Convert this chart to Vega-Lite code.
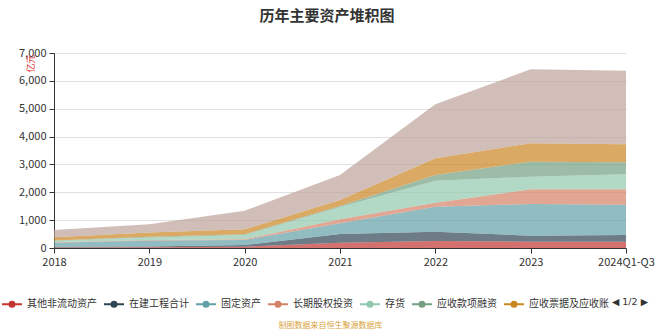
{
  "$schema": "https://vega.github.io/schema/vega-lite/v6.json",
  "width": 572,
  "height": 195,
  "autosize": {"type": "none"},
  "padding": {"left": 54, "top": 53, "right": 32, "bottom": 87},
  "background": "white",
  "title": {
    "text": "历年主要资产堆积图",
    "fontSize": 15,
    "fontWeight": "bold",
    "color": "#333333",
    "font": "Noto Sans CJK SC",
    "anchor": "middle",
    "dx": -13,
    "offset": 23
  },
  "config": {
    "font": "Noto Sans CJK SC",
    "view": {"stroke": null},
    "axis": {"labelFont": "Noto Sans CJK SC", "labelColor": "#333333", "labelFontSize": 11}
  },
  "data": {
    "values": [
      {"year": "2018", "series": "其他非流动资产", "idx": 1, "value": 20},
      {"year": "2019", "series": "其他非流动资产", "idx": 1, "value": 25},
      {"year": "2020", "series": "其他非流动资产", "idx": 1, "value": 45},
      {"year": "2021", "series": "其他非流动资产", "idx": 1, "value": 190},
      {"year": "2022", "series": "其他非流动资产", "idx": 1, "value": 250},
      {"year": "2023", "series": "其他非流动资产", "idx": 1, "value": 225},
      {"year": "2024Q1-Q3", "series": "其他非流动资产", "idx": 1, "value": 225},
      {"year": "2018", "series": "在建工程合计", "idx": 2, "value": 25},
      {"year": "2019", "series": "在建工程合计", "idx": 2, "value": 25},
      {"year": "2020", "series": "在建工程合计", "idx": 2, "value": 60},
      {"year": "2021", "series": "在建工程合计", "idx": 2, "value": 310},
      {"year": "2022", "series": "在建工程合计", "idx": 2, "value": 335},
      {"year": "2023", "series": "在建工程合计", "idx": 2, "value": 215},
      {"year": "2024Q1-Q3", "series": "在建工程合计", "idx": 2, "value": 240},
      {"year": "2018", "series": "固定资产", "idx": 3, "value": 145},
      {"year": "2019", "series": "固定资产", "idx": 3, "value": 215},
      {"year": "2020", "series": "固定资产", "idx": 3, "value": 185},
      {"year": "2021", "series": "固定资产", "idx": 3, "value": 385},
      {"year": "2022", "series": "固定资产", "idx": 3, "value": 895},
      {"year": "2023", "series": "固定资产", "idx": 3, "value": 1140},
      {"year": "2024Q1-Q3", "series": "固定资产", "idx": 3, "value": 1090},
      {"year": "2018", "series": "长期股权投资", "idx": 4, "value": 15},
      {"year": "2019", "series": "长期股权投资", "idx": 4, "value": 20},
      {"year": "2020", "series": "长期股权投资", "idx": 4, "value": 25},
      {"year": "2021", "series": "长期股权投资", "idx": 4, "value": 145},
      {"year": "2022", "series": "长期股权投资", "idx": 4, "value": 145},
      {"year": "2023", "series": "长期股权投资", "idx": 4, "value": 525},
      {"year": "2024Q1-Q3", "series": "长期股权投资", "idx": 4, "value": 550},
      {"year": "2018", "series": "存货", "idx": 5, "value": 55},
      {"year": "2019", "series": "存货", "idx": 5, "value": 95},
      {"year": "2020", "series": "存货", "idx": 5, "value": 155},
      {"year": "2021", "series": "存货", "idx": 5, "value": 440},
      {"year": "2022", "series": "存货", "idx": 5, "value": 790},
      {"year": "2023", "series": "存货", "idx": 5, "value": 455},
      {"year": "2024Q1-Q3", "series": "存货", "idx": 5, "value": 540},
      {"year": "2018", "series": "应收款项融资", "idx": 6, "value": 10},
      {"year": "2019", "series": "应收款项融资", "idx": 6, "value": 20},
      {"year": "2020", "series": "应收款项融资", "idx": 6, "value": 20},
      {"year": "2021", "series": "应收款项融资", "idx": 6, "value": 40},
      {"year": "2022", "series": "应收款项融资", "idx": 6, "value": 205},
      {"year": "2023", "series": "应收款项融资", "idx": 6, "value": 540},
      {"year": "2024Q1-Q3", "series": "应收款项融资", "idx": 6, "value": 430},
      {"year": "2018", "series": "应收票据及应收账款", "idx": 7, "value": 120},
      {"year": "2019", "series": "应收票据及应收账款", "idx": 7, "value": 160},
      {"year": "2020", "series": "应收票据及应收账款", "idx": 7, "value": 180},
      {"year": "2021", "series": "应收票据及应收账款", "idx": 7, "value": 210},
      {"year": "2022", "series": "应收票据及应收账款", "idx": 7, "value": 600},
      {"year": "2023", "series": "应收票据及应收账款", "idx": 7, "value": 660},
      {"year": "2024Q1-Q3", "series": "应收票据及应收账款", "idx": 7, "value": 645},
      {"year": "2018", "series": "货币资金", "idx": 8, "value": 260},
      {"year": "2019", "series": "货币资金", "idx": 8, "value": 290},
      {"year": "2020", "series": "货币资金", "idx": 8, "value": 670},
      {"year": "2021", "series": "货币资金", "idx": 8, "value": 900},
      {"year": "2022", "series": "货币资金", "idx": 8, "value": 1940},
      {"year": "2023", "series": "货币资金", "idx": 8, "value": 2655},
      {"year": "2024Q1-Q3", "series": "货币资金", "idx": 8, "value": 2645}
    ]
  },
  "mark": {"type": "area", "opacity": 0.7, "interpolate": "linear"},
  "encoding": {
    "x": {
      "field": "year",
      "type": "ordinal",
      "sort": null,
      "scale": {"type": "point", "padding": 0},
      "axis": {
        "labelAngle": 0,
        "labelOverlap": false,
        "domainColor": "#333333",
        "tickColor": "#333333",
        "tickSize": 5,
        "labelPadding": 3,
        "grid": false,
        "title": "制图数据来自恒生聚源数据库",
        "titleFontSize": 8,
        "titleFontWeight": "normal",
        "titleColor": "#d9a441",
        "titleX": 276,
        "titleY": 77,
        "titleAlign": "center",
        "titleBaseline": "middle"
      }
    },
    "y": {
      "field": "value",
      "type": "quantitative",
      "stack": "zero",
      "scale": {"domain": [0, 7000], "nice": false},
      "axis": {
        "values": [0, 1000, 2000, 3000, 4000, 5000, 6000, 7000],
        "format": ",d",
        "domainColor": "#333333",
        "tickColor": "#333333",
        "tickSize": 5,
        "labelPadding": 3,
        "gridColor": "#e0e0e0",
        "title": "亿元",
        "titleFontSize": 9,
        "titleFontWeight": "normal",
        "titleColor": "#e03030",
        "titleX": -24,
        "titleY": 10,
        "titleAngle": -90,
        "titleAlign": "center",
        "titleBaseline": "middle"
      }
    },
    "order": {"field": "idx", "type": "quantitative"},
    "color": {
      "field": "series",
      "type": "nominal",
      "scale": {
        "domain": ["其他非流动资产", "在建工程合计", "固定资产", "长期股权投资", "存货", "应收款项融资", "应收票据及应收账款", "货币资金"],
        "range": ["#c23531", "#2f4554", "#61a0a8", "#d48265", "#91c7ae", "#749f83", "#ca8622", "#bda29a"]
      },
      "legend": {
        "orient": "none",
        "legendX": -53,
        "legendY": 240,
        "direction": "horizontal",
        "values": ["其他非流动资产", "在建工程合计", "固定资产", "长期股权投资", "存货", "应收款项融资", "应收票据及应收账款"],
        "labelExpr": "datum.label == '应收票据及应收账款' ? '应收票据及应收账' : datum.label",
        "symbolType": "M-1,0L-0.25,0M0.25,0L1,0M0.25,0A0.25,0.25,0,1,1,-0.25,0A0.25,0.25,0,1,1,0.25,0Z",
        "symbolSize": 400,
        "symbolStrokeWidth": 2,
        "symbolOpacity": 1,
        "labelFontSize": 10,
        "labelColor": "#333333",
        "labelFont": "Noto Sans CJK SC",
        "labelOffset": 4,
        "labelLimit": 200,
        "columnPadding": 3,
        "title": "◀ 1/2 ▶",
        "titleOrient": "right",
        "titleFont": "DejaVu Sans",
        "titleFontSize": 9.5,
        "titleFontWeight": "normal",
        "titleColor": "#333333",
        "titlePadding": 3,
        "encode": {
          "symbols": {
            "update": {
              "fill": {"scale": "color", "field": "value"},
              "stroke": {"scale": "color", "field": "value"},
              "opacity": {"value": 1},
              "fillOpacity": {"value": 1},
              "strokeWidth": {"value": 2}
            }
          }
        }
      }
    }
  }
}
